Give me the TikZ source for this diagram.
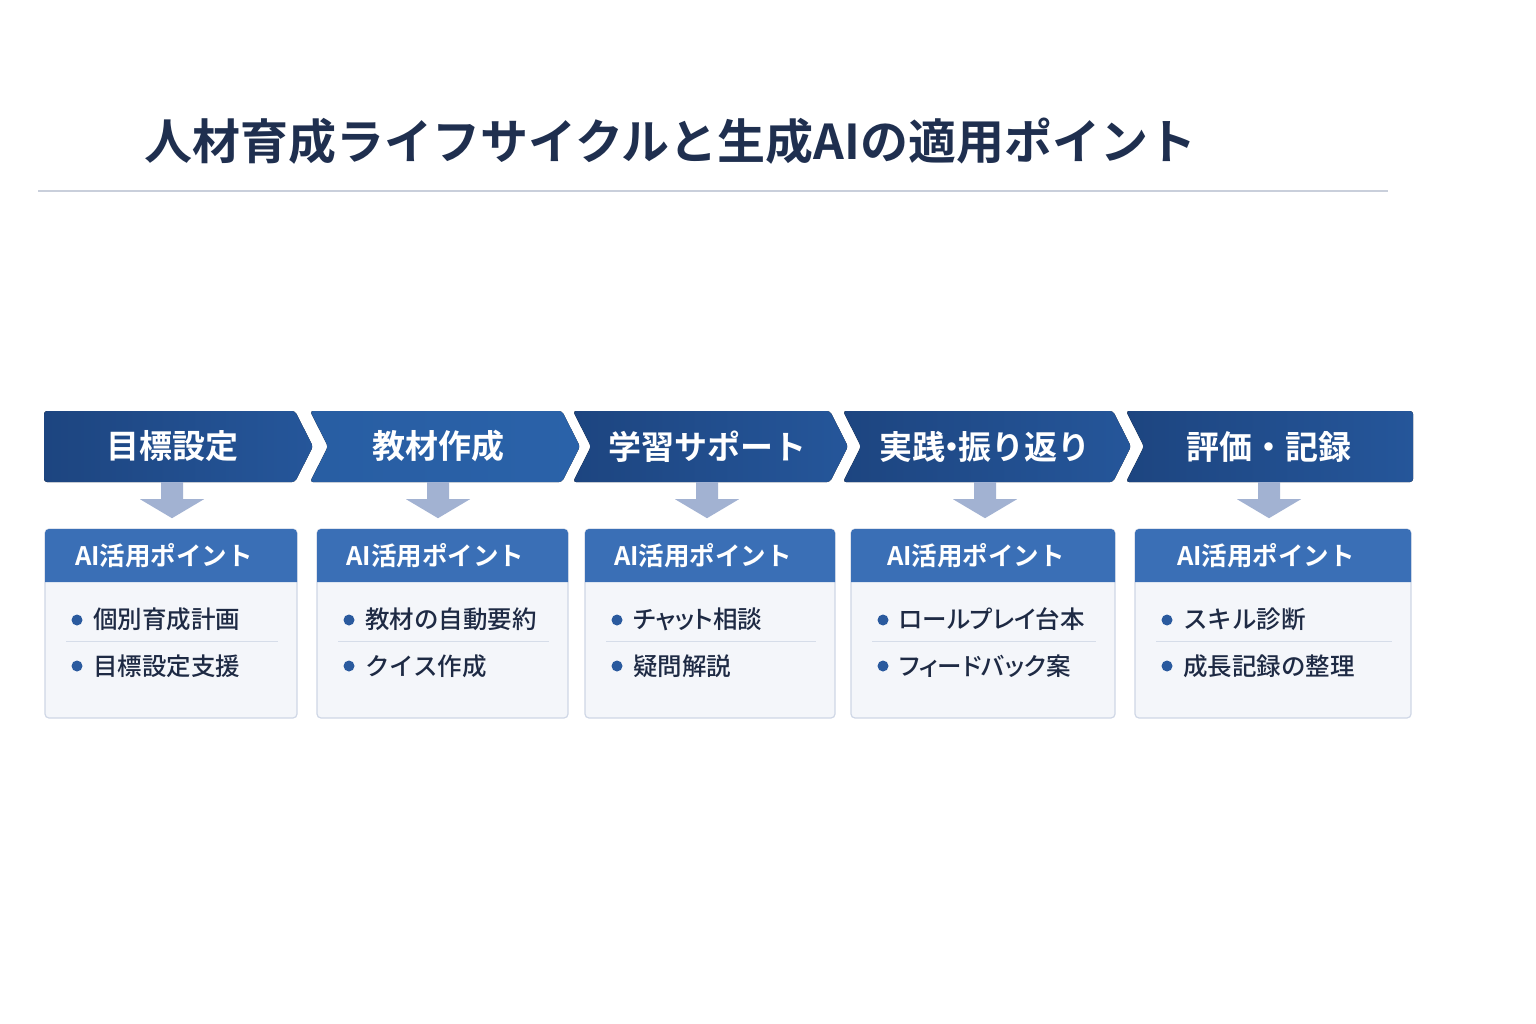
\documentclass[tikz,border=0pt]{standalone}
\usepackage{fontspec}
\setmainfont{Noto Sans CJK JP}[BoldFont=* Bold]
\newfontfamily\cjkmed{Noto Sans CJK JP}[UprightFont=* Medium]
\newfontfamily\cjkmedp{Noto Sans CJK JP}[UprightFont=* Medium, RawFeature=+palt]
\usetikzlibrary{calc}
\definecolor{titlecol}{HTML}{1F2F4F}
\definecolor{rulecol}{HTML}{C9CFDB}
\definecolor{chevdark}{HTML}{1D4580}
\definecolor{chevmid}{HTML}{25569A}
\definecolor{chevlight}{HTML}{2A62A9}
\definecolor{headcol}{HTML}{3A6FB6}
\definecolor{bodycol}{HTML}{F4F6FA}
\definecolor{bordercol}{HTML}{CFD7E6}
\definecolor{sepcol}{HTML}{D6DDE9}
\definecolor{dotcol}{HTML}{2A5A9E}
\definecolor{itemcol}{HTML}{1E2A44}
\definecolor{arrcol}{HTML}{A2B2D2}
\tikzset{
  chevshade/.style={left color=chevdark, right color=chevmid, rounded corners=3pt},
  chevshadeB/.style={left color=chevlight!85!chevdark, right color=chevlight, rounded corners=3pt},
  stagetext/.style={text=white, font=\bfseries\fontsize{33}{33}\selectfont, minimum height=71pt, inner sep=0pt},
  headtext/.style={text=white, font=\bfseries\fontsize{25.5}{25.5}\selectfont, inner sep=0pt},
  itemtext/.style={text=itemcol, font=\cjkmed\fontsize{24.5}{24.5}\selectfont, anchor=west, inner sep=0pt},
  cardbox/.style={fill=bodycol, draw=bordercol, line width=1.2pt, rounded corners=4pt},
  sepline/.style={draw=sepcol, line width=1pt},
  dot/.style={circle, fill=dotcol, inner sep=0pt, minimum size=11pt},
  blockarrow/.style={fill=arrcol}
}
\newcommand{\blockarr}[1]{%
  \path let \p1=(#1.south) in
    [blockarrow] ({\x1-11pt},\y1) -- ({\x1+11pt},\y1) -- ({\x1+11pt},{\y1-17pt})
    -- ({\x1+32pt},{\y1-17pt}) -- (\x1,{\y1-36pt}) -- ({\x1-32pt},{\y1-17pt})
    -- ({\x1-11pt},{\y1-17pt}) -- cycle;}
% #1 name, #2 left, #3 right, #4 item1, #5 item2
\newcommand{\aicard}[5]{%
  \draw[cardbox] (#2,529) rectangle (#3,718);
  \fill[headcol] (#2,582) [rounded corners=4pt] -- (#2,529) -- (#3,529) [sharp corners] -- (#3,582) -- cycle;
  \node[headtext] (#1h) at ({(#2+#3)/2-7},556) {AI活用ポイント};
  \node[dot] (#1d1) at ({#2+32},620) {};
  \node[itemtext] (#1a) at ({#2+48},619) {#4};
  \draw[sepline] ({#2+21},641) -- ({#3-19},641);
  \node[dot] (#1d2) at ({#2+32},666) {};
  \node[itemtext] (#1b) at ({#2+48},666) {#5};
}
\begin{document}
\begin{tikzpicture}[x=1pt,y=-1pt]
\useasboundingbox (0,0) rectangle (1536,1024);
\fill[white] (0,0) rectangle (1536,1024);
% title
\node[anchor=west, inner sep=0pt, text=titlecol, font=\bfseries\fontsize{48}{48}\selectfont] (title) at (144,141) {人材育成ライフサイクルと生成AIの適用ポイント};
\draw[rulecol, line width=1.2pt] (38,191) -- (1388,191);
% chevrons
\fill[chevshade] (44,411) -- (295,411) -- (313,446.5) -- (295,482) -- (44,482) -- cycle;
\fill[chevshadeB] (310,411) -- (562,411) -- (580,446.5) -- (562,482) -- (310,482) -- (328,446.5) -- cycle;
\fill[chevshade] (573,411) -- (830,411) -- (848,446.5) -- (830,482) -- (573,482) -- (591,446.5) -- cycle;
\fill[chevshade] (843,411) -- (1113,411) -- (1131,446.5) -- (1113,482) -- (843,482) -- (861,446.5) -- cycle;
\fill[chevshade] (1126,411) -- (1413,411) -- (1413,482) -- (1126,482) -- (1144,446.5) -- cycle;
\node[stagetext] (s1) at (172,446.5) {目標設定};
\node[stagetext] (s2) at (438,446.5) {教材作成};
\node[stagetext] (s3) at (707,446.5) {学習サポート};
\node[stagetext] (s4) at (985,446.5) {実践\hspace{-0.3em}・\hspace{-0.3em}振り返り};
\node[stagetext] (s5) at (1269,446.5) {評価・記録};
% cards
\aicard{c1}{45}{297}{個別育成計画}{目標設定支援}
\aicard{c2}{317}{568}{教材の自動要約}{クイス作成}
\aicard{c3}{585}{835}{{\cjkmedp チャット相談}}{疑問解説}
\aicard{c4}{851}{1115}{{\cjkmedp ロールプレイ台本}}{{\cjkmedp フィードバック案}}
\aicard{c5}{1135}{1411}{スキル診断}{成長記録の整理}
% arrows
\blockarr{s1}
\blockarr{s2}
\blockarr{s3}
\blockarr{s4}
\blockarr{s5}
\end{tikzpicture}
\end{document}
